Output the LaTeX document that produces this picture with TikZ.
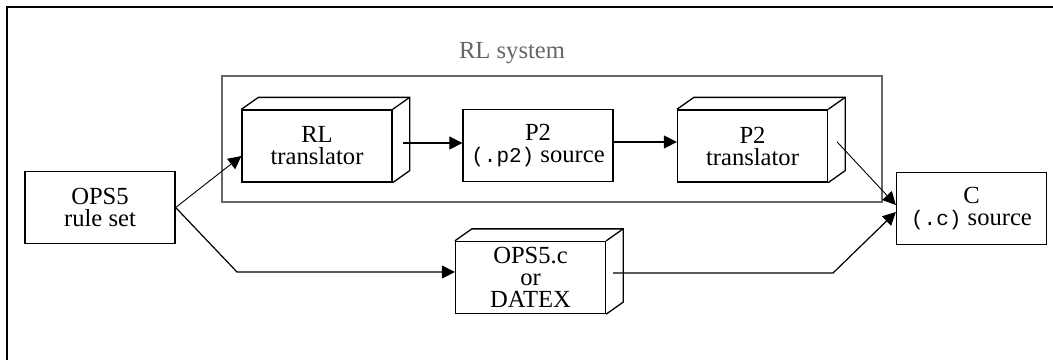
\documentclass[tikz,border=0pt]{standalone}
\usepackage{fontspec}
\setmainfont{Liberation Serif}
\setmonofont{Liberation Mono}
\usetikzlibrary{arrows.meta,calc}

\newcommand{\code}[1]{{\fontsize{10.5pt}{10.5pt}\ttfamily #1}}

\tikzset{
  px/.style={x=0.5pt,y=-0.5pt},
  procbox/.style={draw,line width=0.65pt,inner sep=0pt,
    minimum width=75pt,minimum height=36pt,align=center,
    font=\fontsize{12.3pt}{11pt}\selectfont},
  flow/.style={line width=0.6pt,-{Triangle[length=6.5pt,width=6.5pt]}},
  thinflow/.style={line width=0.45pt,-{Triangle[length=6.5pt,width=6.5pt]}},
  group/.style={draw=black!60,line width=0.55pt},
  framerule/.style={line width=0.55pt},
}

% back edges of a box drawn as a solid block
\newcommand{\blockdepth}[1]{%
  \draw[line width=0.65pt]
    (#1.north west) -- ++(17,-12) -| ($(#1.south east)+(17,-12)$) -- (#1.south east);
  \draw[line width=0.65pt] (#1.north east) -- ++(17,-12);
}

\begin{document}
\begin{tikzpicture}[px]
\useasboundingbox (0,0) rectangle (1053,360);

% page frame (top and left rules)
\draw[framerule] (1053,7) -- (7,7) -- (7,360);

% RL system group
\draw[group] (222,76) rectangle (882,202);
\node[text=black!60,font=\fontsize{12.3pt}{10pt}\selectfont] (grouplabel) at (512,53) {RL system};

% boxes
\node[procbox] (ops)  at (100,207.5) {OPS5\\rule set};
\node[procbox] (rl)   at (317,146)   {RL\\translator};
\node[procbox] (p2s)  at (538,145.5) {P2\\\code{(.p2)} source};
\node[procbox] (p2t)  at (752.5,146) {P2\\translator};
\node[procbox] (csrc) at (971.5,208.5) {C\\\code{(.c)} source};
\node[procbox] (opsc) at (530.5,277.5) {OPS5.c\\or\\DATEX};

\blockdepth{rl}
\blockdepth{p2t}
\blockdepth{opsc}

% connectors
\draw[thinflow] (ops.east) -- ([yshift=-5pt]rl.west);

\coordinate (rlout) at ($(rl.east)+(10,-3)$);
\draw[flow] (rlout) -- (rlout -| p2s.west);

\coordinate (p2sout) at ($(p2s.east)+(0,-3.5)$);
\draw[flow] (p2sout) -- (p2sout -| p2t.west);

\coordinate (p2tout) at ($(p2t.east)+(9,-4)$);
\draw[thinflow] (p2tout) -- ([yshift=1.75pt]csrc.west);

\coordinate (lowbend) at (237,272);
\draw[flow] (ops.east) -- (lowbend) -- (lowbend -| opsc.west);

\coordinate (opscout) at ($(opsc.east)+(7,-4.5)$);
\coordinate (upbend) at (833,273);
\draw[flow] (opscout) -- (upbend) -- ([yshift=-1.75pt]csrc.west);
\end{tikzpicture}
\end{document}
